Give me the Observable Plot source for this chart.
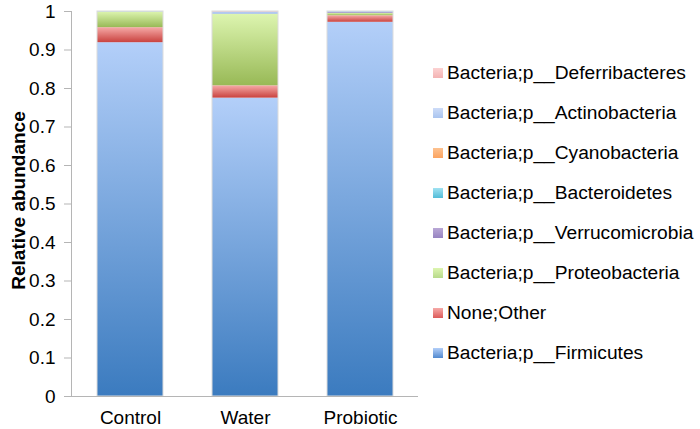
<!DOCTYPE html>
<html>
<head>
<meta charset="utf-8">
<script src="https://cdn.jsdelivr.net/npm/d3@7"></script>
<script src="https://cdn.jsdelivr.net/npm/@observablehq/plot@0.6"></script>
<style>
  html, body { margin: 0; padding: 0; background: #fff; }
  #wrap { position: relative; width: 700px; height: 429px; font-family: "Liberation Sans", Arial, sans-serif; }
  #legend { position: absolute; left: 0; top: 0; }
  .item { position: absolute; left: 433px; height: 20px; display: flex; align-items: center; font-size: 19.2px; color: #000; white-space: nowrap; }
  .sw { width: 10px; height: 10px; margin-right: 4px; }
</style>
</head>
<body>
<div id="wrap"><div id="legend"></div></div>
<script>
const groups = ["Control", "Water", "Probiotic"];
// stacking order, bottom to top
const series = [
  "Bacteria;p__Firmicutes",
  "None;Other",
  "Bacteria;p__Proteobacteria",
  "Bacteria;p__Verrucomicrobia",
  "Bacteria;p__Bacteroidetes",
  "Bacteria;p__Cyanobacteria",
  "Bacteria;p__Actinobacteria",
  "Bacteria;p__Deferribacteres"
];
const firmicutes      = [0.919, 0.775, 0.972];
const other           = [0.039, 0.032, 0.017];
const proteobacteria  = [0.041, 0.186, 0.006];
const verrucomicrobia = [0.000, 0.000, 0.002];
const bacteroidetes   = [0.000, 0.000, 0.000];
const cyanobacteria   = [0.000, 0.000, 0.000];
const actinobacteria  = [0.001, 0.006, 0.003];
const deferribacteres = [0.000, 0.001, 0.000];
const yTicks = [0, 0.1, 0.2, 0.3, 0.4, 0.5, 0.6, 0.7, 0.8, 0.9, 1];
const yTitle = "Relative abundance";
const legendOrder = [
  "Bacteria;p__Deferribacteres",
  "Bacteria;p__Actinobacteria",
  "Bacteria;p__Cyanobacteria",
  "Bacteria;p__Bacteroidetes",
  "Bacteria;p__Verrucomicrobia",
  "Bacteria;p__Proteobacteria",
  "None;Other",
  "Bacteria;p__Firmicutes"
];
// gradient colours [top, bottom] per series
const gradTop    = ["#b3cff9", "#f6aaa8", "#ddf5b0", "#b9a8d6", "#a0e2f2", "#fdc290", "#cddcf8", "#fcd2d2"];
const gradBottom = ["#3b7bbf", "#c9423f", "#98b956", "#7a5fa0", "#3aa7c3", "#f28a35", "#95b3e8", "#ef9a9a"];
const swatch     = ["#5189cf", "#dc5a59", "#b7d98a", "#9683c1", "#52bcd8", "#fba35f", "#a9c4ef", "#f3b2b2"];

const valueArrays = [firmicutes, other, proteobacteria, verrucomicrobia, bacteroidetes, cyanobacteria, actinobacteria, deferribacteres];
const data = [];
series.forEach((s, si) => groups.forEach((g, gi) => {
  data.push({group: g, series: s, value: valueArrays[si][gi]});
}));
const totals = groups.map((g, gi) => ({group: g, value: valueArrays.reduce((a, arr) => a + arr[gi], 0)}));

const chart = Plot.plot({
  width: 700,
  height: 429,
  marginLeft: 71,
  marginRight: 282,
  marginTop: 11,
  marginBottom: 33,
  style: {fontFamily: "'Liberation Sans', Arial, sans-serif", background: "#fff"},
  x: {domain: groups, paddingInner: 0.43, paddingOuter: 0.216, label: null},
  y: {domain: [0, 1], label: null},
  color: {domain: series, range: series.map((s, i) => `url(#grad${i})`)},
  marks: [
    Plot.barY(data, {x: "group", y: "value", fill: "series", order: series}),
    Plot.barY(totals, {x: "group", y: "value", fill: "none", stroke: "#dcdcdc", strokeWidth: 1}),
    Plot.frame({anchor: "left", stroke: "#b5b5b5"}),
    Plot.ruleY([0], {stroke: "#b5b5b5"}),
    Plot.axisY({ticks: yTicks, tickSize: 7, tickPadding: 9, fontSize: 19, stroke: "#b5b5b5", color: "#000", tickFormat: d => String(d), label: null}),
    Plot.axisX({tickSize: 0, tickPadding: 14, fontSize: 19, label: null, color: "#000"})
  ]
});

// gradient definitions
const svg = d3.select(chart);
const defs = svg.insert("defs", ":first-child");
series.forEach((s, i) => {
  const lg = defs.append("linearGradient").attr("id", `grad${i}`).attr("x1", 0).attr("y1", 0).attr("x2", 0).attr("y2", 1);
  lg.append("stop").attr("offset", "0%").attr("stop-color", gradTop[i]);
  lg.append("stop").attr("offset", "100%").attr("stop-color", gradBottom[i]);
});
// bold y-axis title, centred on the y scale's range
const yr = chart.scale("y").range;
const cy = (yr[0] + yr[1]) / 2 - 3;
svg.append("text")
  .attr("transform", `translate(25,${cy}) rotate(-90)`)
  .attr("text-anchor", "middle")
  .attr("font-family", "'Liberation Sans', Arial, sans-serif")
  .attr("font-weight", "bold")
  .attr("font-size", 19)
  .attr("fill", "#000")
  .text(yTitle);

document.getElementById("wrap").prepend(chart);

const legend = document.getElementById("legend");
legendOrder.forEach((s, i) => {
  const si = series.indexOf(s);
  const div = document.createElement("div");
  div.className = "item";
  div.style.top = (63 + i * 40) + "px";
  const sw = document.createElement("div");
  sw.className = "sw";
  sw.style.background = `linear-gradient(${gradTop[si]}, ${swatch[si]})`;
  div.appendChild(sw);
  const t = document.createElement("span");
  t.textContent = s;
  div.appendChild(t);
  legend.appendChild(div);
});
</script>
</body>
</html>
